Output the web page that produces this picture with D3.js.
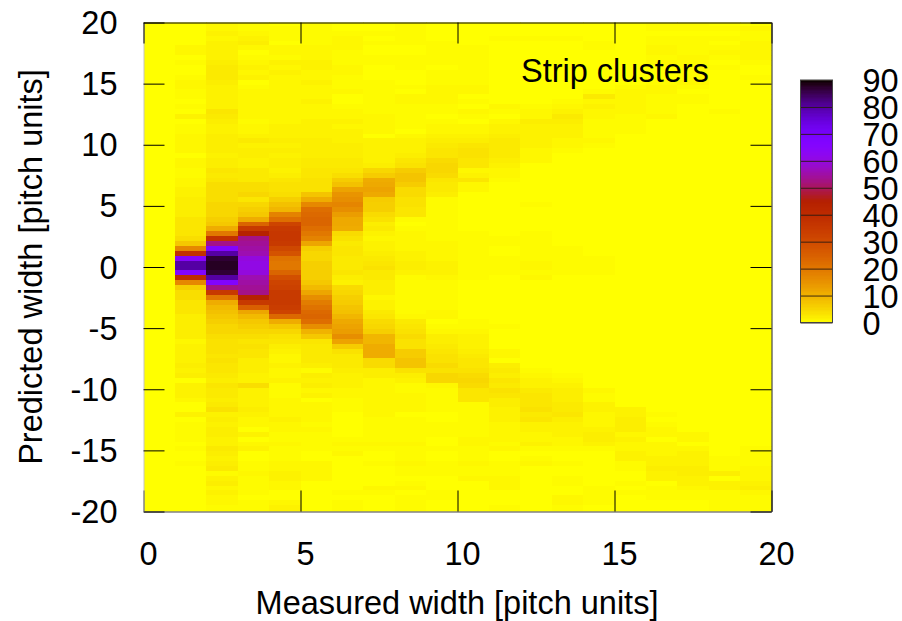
<!DOCTYPE html>
<html>
<head>
<meta charset="utf-8">
<script src="https://cdn.jsdelivr.net/npm/d3@7"></script>
<style>
  html, body { margin: 0; padding: 0; background: #fff; }
  svg { display: block; }
  text { font-family: "Liberation Sans", Arial, sans-serif; fill: #000; }
</style>
</head>
<body>
<div id="vis"></div>
<script>
// Values: one array per measured width bin, rows run from +20 down to -20
const col00 = [
  0,0,0,0,0,0,0,0,0,0, 0,0,0,0,0,0,0,0,0,0,
  0,0,0,0,0,0,0,0,0,0, 0,0,0,0,0,0,0,0,0,0,
  0,0,0,0,0,0,0,0,0,0, 0,0,0,0,0,0,0,0,0,0,
  0,0,0,0,0,0,0,0,0,0, 0,0,0,0,0,0,0,0,0,0,
  0,0,0,0,0,0,0,0,0,0, 0,0,0,0,0,0,0,0,0,0];
const col01 = [
  0,0,0,0,0,1,1,0,.5,0, 0,.5,1,1,.5,.5,0,.5,0,1.5,
  0,.5,.5,1,1,1,1,0,1,1, .5,.5,1,1,1.5,1.5,2,2,2,2,
  3,3,3,3,4,7,17,38,65,80, 80,67,40,17,6,4,4,3,3,3,
  2,2,2,2,2,1,1.5,1.5,1.5,1.5, 2,1.5,2,0,1.5,1.5,1.5,1,0,0,
  1.5,0,.5,.5,.5,.5,0,.5,0,0, .5,0,0,0,0,0,0,0,0,0];
const col02 = [
  1,1,1.5,1,1.5,1.5,1.5,1.5,2,2.5, 2.5,2.5,2,1.5,1.5,1.5,1.5,1.5,3,2.5,
  2,1.5,1.5,2,2,2,2,1.5,2,2, 3,2.5,3,4,4,4,4,5,5,5,
  6,7,11,20,38,53,67,80,87,88, 88,87,80,67,53,35,20,11,9,8,
  7,6,5,5,4,3.5,3.5,3.5,3,3.5, 3,3,2.5,2,3,2.5,2.5,2,2.5,3.5,
  1.5,2,1.5,2,2,1.5,1.5,2.5,2,1.5, 2,2.5,.5,1.5,2,1,1.5,1,1,.5];
const col03 = [
  .5,.5,1,1.5,2,1,0,.5,1,1.5, 1,1.5,0,.5,1,1,1,1,1,1,
  .5,1,1,1.5,2.5,1.5,2,2,1.5,1.5, 2.5,2.5,2.5,4,4,5,3,5,6,7,
  11,24,35,44,53,54,55,56,60,61, 61,60,56,55,54,53,44,35,25,12,
  9,7,6,5,4,3,3.5,3,3,2, 2,2,1.5,1.5,4,1.5,1.5,1.5,1.5,2,
  1.5,1,1,0,1.5,0,1,1.5,0,0, .5,.5,1,.5,.5,.5,.5,0,.5,.5];
const col04 = [
  0,.5,.5,.5,0,1,1,.5,1.5,1, 1.5,1,1,1,1,1,1,1,1,1,
  1,1.5,1.5,1.5,2,1.5,2,1.5,2,2, 1.5,2,3,3.5,3.5,4,6,8,9.5,18,
  22,32,35,36,36,35,31,28,21,20, 20,24,29,32,33,35,35,35,34,32,
  23,11,7,5,3.5,3,2,1.5,1,1, 1.5,1,1,1.5,.5,.5,.5,1,1,1,
  1,1.5,1,1,.5,.5,1,.5,.5,.5, 1,1,1.5,1.5,1,1,0,0,1,1.5];
const col05 = [
  .5,.5,.5,.5,.5,1,1,1,1.5,1.5, 1,1,1.5,1,1,1,1.5,1,1,1,
  1.5,1.5,1.5,1.5,2,2,2,2,2.5,2.5, 3,3,3.5,3.5,3.5,7.5,11,17,22,23,
  24,24,22,20,18,12,6,5,5,6, 6,6,6,7,9,12,16,19,21,23,
  24,22,16,10,7,3,2.5,2.5,2.5,2.5, 2,.5,2,1.5,2,1,1.5,0,1,1,
  1,1,.5,1,.5,.5,.5,.5,0,0, 1,1,1,1,0,0,0,0,0,0];
const col06 = [
  0,0,.5,1,1,1,.5,.5,.5,1, 1,.5,.5,.5,1,0,0,.5,1,1,
  1.5,1,1.5,1.5,1.5,2,2,2,2.5,2.5, 3,4,6.5,8,12.5,15,16,17.5,16,13.5,
  11.5,11.5,11,4.5,3.5,2.5,3,3,2.5,2.5, 2.5,3,2,1.5,4.5,5,6,6.5,7.5,8,
  9.5,11.5,12.5,13.5,16,12.5,6.5,3.5,2.5,2.5, 2.5,2,1.5,1.5,1.5,1,1,.5,.5,.5,
  0,0,0,0,0,.5,1,.5,1,0, 0,0,0,0,0,0,.5,0,.5,.5];
const col07 = [
  0,0,.5,0,.5,0,0,.5,.5,0, 0,0,.5,.5,.5,.5,.5,.5,.5,1,
  1,1,1,0,1.5,1.5,1.5,1.5,1.5,2, 5,6.5,11,11.5,12.5,11.5,6.5,6,6,4.5,
  3.5,2,2.5,1.5,1,1.5,1.5,2,2.5,3, 3.5,2.5,2.5,2,2,2,1,1.5,1.5,2.5,
  3,4.5,5,6,9.5,9.5,11,11,11,4.5, 4.5,2,2,1,1,1,1,1,1,1,
  1,.5,.5,.5,.5,.5,1,.5,0,0, .5,0,0,0,0,1,.5,0,0,0];
const col08 = [
  .5,.5,.5,.5,.5,0,0,.5,.5,.5, 0,0,0,.5,0,1,1,.5,.5,.5,
  .5,.5,0,1,1.5,1.5,1.5,2,3,3.5, 6.5,7.5,7.5,6.5,4.5,4.5,3.5,3.5,3,3,
  .5,0,.5,1,1,1,1,1.5,1.5,2, 2,1.5,.5,.5,.5,.5,.5,.5,.5,.5,
  1,2.5,3,3.5,4.5,3.5,3.5,6.5,6.5,7.5, 7.5,3.5,2,1.5,.5,.5,1,1,1,1,
  0,.5,.5,.5,.5,.5,1,.5,.5,.5, 1,.5,.5,0,.5,1,0,.5,.5,.5];
const col09 = [
  0,0,0,0,.5,.5,.5,.5,.5,0, .5,.5,.5,1,1,1,1,.5,.5,0,
  .5,1,1,1.5,2,2.5,3,3,4.5,5, 5,4.5,3,2.5,2.5,2,.5,.5,.5,.5,
  .5,.5,.5,.5,.5,1,1,1,1,1.5, 1.5,1.5,1,.5,.5,.5,.5,.5,.5,1,
  1,0,.5,1,2,2,2.5,3,3.5,3.5, 4.5,3.5,5,5,1,.5,.5,.5,.5,.5,
  0,0,.5,.5,.5,0,0,.5,0,0, .5,.5,.5,0,0,0,.5,.5,0,0];
const col10 = [
  0,0,0,0,0,.5,.5,.5,.5,.5, .5,.5,.5,1,1,0,.5,0,1,.5,
  0,1,1,1.5,2,3,3.5,3.5,3,3, 1,1.5,3,1,1,0,0,0,0,0,
  0,0,0,.5,.5,.5,.5,.5,.5,.5, .5,.5,.5,0,0,0,0,0,0,0,
  0,.5,.5,1,1.5,1.5,1.5,2,2.5,3, 3,3.5,4.5,5,4.5,3,3,3,.5,.5,
  .5,.5,.5,.5,.5,1,1,.5,.5,.5, 1,.5,.5,1,0,0,0,0,0,0];
const col11 = [
  0,0,0,.5,0,0,0,0,0,0, 0,0,0,0,0,0,0,1,.5,0,
  1,1.5,1.5,2,2.5,2.5,2.5,2.5,2,1.5, 1,1,.5,0,0,0,0,0,0,0,
  0,0,0,0,.5,.5,0,0,.5,.5, .5,.5,0,0,0,0,0,0,0,0,
  0,0,.5,0,0,0,0,1,1,0, 2,2.5,2,3,2.5,3.5,3,2,2,1.5,
  1.5,1.5,1,1,1,1,.5,1,0,0, .5,.5,.5,1,1,1,0,0,0,.5];
const col12 = [
  0,0,0,.5,0,0,0,0,0,0, 0,0,0,0,0,0,0,.5,1,1,
  2,1.5,1.5,1.5,1.5,1.5,1,1,1,0, 0,0,0,0,0,0,0,.5,0,0,
  0,0,0,.5,.5,.5,.5,.5,.5,1, 1,.5,1,0,0,0,0,0,0,0,
  0,0,0,0,0,0,0,0,0,0, 0,.5,1,1.5,1.5,2.5,3,3,3,3.5,
  2.5,3,1.5,1.5,1,1,1.5,.5,0,.5, 1,0,0,0,0,0,0,0,0,0];
const col13 = [
  0,0,0,.5,0,0,0,0,0,0, 0,0,0,0,0,0,.5,1,1.5,2.5,
  2,1.5,1.5,1.5,1,1,.5,0,0,0, 0,0,0,0,0,0,0,0,0,0,
  0,0,0,0,0,0,.5,.5,.5,.5, .5,.5,0,0,0,0,0,0,0,0,
  0,0,0,0,0,0,0,0,0,0, 0,0,.5,1,1.5,2,2,2,2.5,2.5,
  3,2,1.5,1.5,1.5,1,1,.5,0,0, .5,0,0,.5,.5,0,0,1,1,.5];
const col14 = [
  0,0,0,0,.5,.5,0,0,0,0, 0,0,0,0,.5,2.5,1,1.5,1,1,
  .5,.5,.5,.5,1,.5,0,0,0,0, 0,0,0,0,0,0,0,0,0,0,
  0,0,0,0,0,0,0,0,.5,.5, .5,.5,0,0,0,0,0,0,0,0,
  0,0,0,0,0,0,0,0,0,0, 0,0,0,0,0,1,.5,.5,1.5,1.5,
  1,1,1,1.5,2,2,1.5,.5,0,0, 0,0,0,0,0,.5,.5,.5,.5,0];
const col15 = [
  0,0,0,0,0,0,0,0,0,0, 0,0,0,.5,1,1,1,1,1,.5,
  .5,.5,.5,0,0,0,0,0,0,0, 0,0,0,0,0,0,0,0,0,0,
  0,0,0,0,0,0,0,0,0,0, 0,0,0,0,0,0,0,0,0,0,
  0,0,0,0,0,0,0,0,0,0, 0,0,0,0,0,0,0,0,0,1.5,
  1.5,2,2,2,1,1.5,1,1,1.5,1.5, .5,.5,0,0,.5,0,.5,0,0,0];
const col16 = [
  .5,.5,0,.5,.5,1,1,.5,1,0, 0,0,.5,1,1,.5,.5,.5,.5,1,
  0,0,0,0,0,0,0,0,0,0, 0,0,0,0,0,0,0,0,0,0,
  0,0,0,0,0,0,0,0,0,0, 0,0,0,0,0,0,0,0,0,0,
  0,0,0,0,0,0,0,0,0,0, 0,0,0,0,0,0,0,0,0,0,
  .5,0,.5,1,1,0,1,1,1,1.5, 1.5,2,1.5,1.5,0,.5,.5,.5,0,0];
const col17 = [
  .5,.5,0,.5,.5,.5,.5,1,.5,.5, .5,.5,1,.5,0,.5,.5,0,0,0,
  0,0,0,0,0,0,0,0,0,0, 0,0,0,0,0,0,0,0,0,0,
  0,0,0,0,0,0,0,0,0,0, 0,0,0,0,0,0,0,0,0,0,
  0,0,0,0,0,0,0,0,0,0, 0,0,0,0,0,0,0,0,0,0,
  0,0,0,0,1,1,0,1,1.5,1.5, 1.5,2,2,1.5,1.5,1,.5,.5,0,0];
const col18 = [
  0,.5,0,.5,0,.5,1,.5,0,.5, 0,0,0,0,0,0,0,0,.5,0,
  0,0,0,0,0,0,0,0,0,0, 0,0,0,0,0,0,0,0,0,0,
  0,0,0,0,0,0,0,0,0,0, 0,0,0,0,0,0,0,0,0,0,
  0,0,0,0,0,0,0,0,0,0, 0,0,0,0,0,0,0,0,0,0,
  0,0,0,0,0,0,0,0,0,.5, .5,.5,2,0,1.5,1.5,.5,.5,.5,.5];
const col19 = [
  0,1,.5,.5,1,1,1,1,.5,0, 0,.5,0,0,0,0,0,0,0,0,
  0,0,0,0,0,0,0,0,0,0, 0,0,0,0,0,0,0,0,0,0,
  0,0,0,0,0,0,0,0,0,0, 0,0,0,0,0,0,0,0,0,0,
  0,0,0,0,0,0,0,0,0,0, 0,0,0,0,0,0,0,0,0,0,
  0,0,0,0,0,0,0,.5,.5,.5, .5,1,1,1,1.5,2,1,.5,.5,.5];

const columns = [col00, col01, col02, col03, col04, col05, col06, col07, col08, col09,
  col10, col11, col12, col13, col14, col15, col16, col17, col18, col19];

const xTicks = [0, 5, 10, 15, 20];
const yTicks = [-20, -15, -10, -5, 0, 5, 10, 15, 20];
const cbTicks = [0, 10, 20, 30, 40, 50, 60, 70, 80, 90];

// Canvas -----------------------------------------------------------------------------------
const canvasWidth = 902;
const canvasHeight = 621;

const plotLeft = 143.5;
const plotRight = 771.5;
const plotTop = 22.5;
const plotBottom = 511.5;
const tickLength = 21;
const fontSize = 32.5;

const cbLeft = 800.5;
const cbRight = 832.5;
const cbTop = 80;
const cbBottom = 322.5;

const svg = d3.select("#vis")
  .append("svg")
  .attr("width", canvasWidth)
  .attr("height", canvasHeight);

const xScale = d3.scaleLinear().domain([0, 20]).range([plotLeft, plotRight]);
const yScale = d3.scaleLinear().domain([-20, 20]).range([plotBottom, plotTop]);
const cbScale = d3.scaleLinear().domain([0, 90]).range([cbBottom, cbTop]);

// gnuplot palette rgbformulae 7,5,15, negative, over cbrange 0:90
const palette = function(v) {
  const t = 1 - v / 90;
  const b = Math.max(0, Math.sin(2 * Math.PI * t));
  return d3.rgb(255 * Math.sqrt(t), 255 * t * t * t, 255 * b).formatHex();
};

// Heat map ---------------------------------------------------------------------------------
svg.append("clipPath")
  .attr("id", "plot-clip")
  .append("rect")
  .attr("x", plotLeft)
  .attr("y", plotTop)
  .attr("width", plotRight - plotLeft)
  .attr("height", plotBottom - plotTop);

const rowHeight = 0.4;
const rowStart = 20.12; // the bins sit a little above the tick grid

const cells = columns.flatMap((values, c) => values.map((v, r) => ({ c: c, r: r, v: v })));

const heat = svg.append("g")
  .attr("clip-path", "url(#plot-clip)")
  .attr("shape-rendering", "crispEdges");

heat.append("rect")
  .attr("x", plotLeft)
  .attr("y", plotTop)
  .attr("width", plotRight - plotLeft)
  .attr("height", plotBottom - plotTop)
  .attr("fill", palette(0));

heat.selectAll("rect.cell")
  .data(cells)
  .join("rect")
  .attr("class", "cell")
  .attr("x", d => xScale(d.c))
  .attr("width", d => xScale(d.c + 1) - xScale(d.c) + 0.5)
  .attr("y", d => yScale(rowStart - d.r * rowHeight))
  .attr("height", yScale(0) - yScale(rowHeight) + 0.5)
  .attr("fill", d => palette(d.v));

// Axes -------------------------------------------------------------------------------------
const styleAxis = function(g) {
  g.selectAll("text")
    .style("font-size", fontSize + "px")
    .style("font-family", "'Liberation Sans', Arial, sans-serif");
  g.selectAll("line").attr("stroke", "#000");
};

svg.append("g")
  .attr("transform", "translate(0," + plotBottom + ")")
  .call(d3.axisBottom(xScale).tickValues(xTicks).tickSize(-tickLength).tickSizeOuter(0).tickFormat(String))
  .call(styleAxis)
  .call(g => g.select(".domain").attr("stroke", "#444"))
  .call(g => g.selectAll("text").attr("y", 53.5).attr("dy", 0).attr("dx", 4.5));

svg.append("g")
  .attr("transform", "translate(" + plotLeft + ",0)")
  .call(d3.axisLeft(yScale).tickValues(yTicks).tickSize(-tickLength).tickSizeOuter(0).tickFormat(String))
  .call(styleAxis)
  .call(g => g.select(".domain").attr("stroke", "#c4c4c4"))
  .call(g => g.selectAll("text").attr("x", -26).attr("dy", 11));

svg.append("g")
  .attr("transform", "translate(0," + plotTop + ")")
  .call(d3.axisTop(xScale).tickValues(xTicks).tickSize(-tickLength).tickSizeOuter(0).tickFormat(""))
  .call(styleAxis)
  .call(g => g.select(".domain").attr("stroke", "#000"));

svg.append("g")
  .attr("transform", "translate(" + plotRight + ",0)")
  .call(d3.axisRight(yScale).tickValues(yTicks).tickSize(-tickLength).tickSizeOuter(0).tickFormat(""))
  .call(styleAxis)
  .call(g => g.select(".domain").attr("stroke", "#222"));

svg.append("text")
  .text("Measured width [pitch units]")
  .attr("x", 457)
  .attr("y", 614)
  .style("text-anchor", "middle")
  .style("font-size", fontSize + "px");

svg.append("text")
  .text("Predicted width [pitch units]")
  .attr("transform", "translate(41.5,267) rotate(-90)")
  .style("text-anchor", "middle")
  .style("font-size", fontSize + "px");

svg.append("text")
  .text("Strip clusters")
  .attr("x", 521)
  .attr("y", 81.5)
  .style("font-size", fontSize + "px");

// Colour box -------------------------------------------------------------------------------
const cbLevels = d3.range(0, 90, 0.5);

svg.append("g")
  .attr("shape-rendering", "crispEdges")
  .selectAll("rect")
  .data(cbLevels)
  .join("rect")
  .attr("x", cbLeft)
  .attr("width", cbRight - cbLeft)
  .attr("y", d => cbScale(d + 0.5))
  .attr("height", cbScale(0) - cbScale(0.5) + 0.5)
  .attr("fill", d => palette(d + 0.25));

svg.append("g")
  .attr("transform", "translate(" + cbRight + ",0)")
  .call(d3.axisRight(cbScale).tickValues(cbTicks).tickSize(-(cbRight - cbLeft)).tickSizeOuter(0).tickFormat(String))
  .call(styleAxis)
  .call(g => g.select(".domain").remove())
  .call(g => g.selectAll("line").attr("stroke", "#2a1a10").attr("stroke-opacity", 0.9))
  .call(g => g.selectAll("text").attr("x", 30).attr("dy", 11.5));

svg.append("rect")
  .attr("x", cbLeft)
  .attr("y", cbTop)
  .attr("width", cbRight - cbLeft)
  .attr("height", cbBottom - cbTop)
  .attr("fill", "none")
  .attr("stroke", "#444");
</script>
</body>
</html>
